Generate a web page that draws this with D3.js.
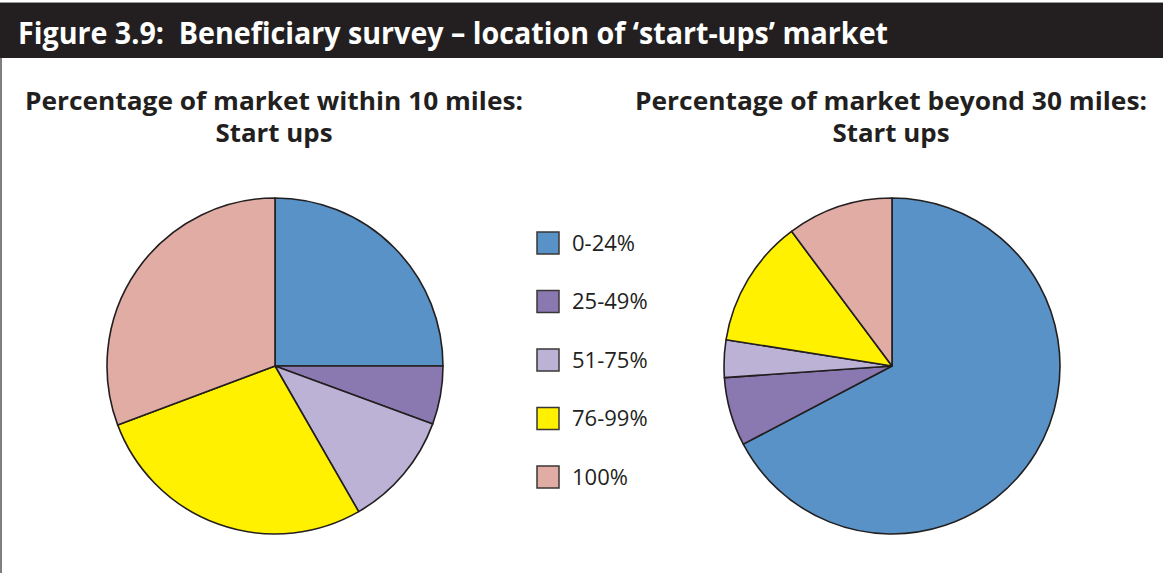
<!DOCTYPE html>
<html>
<head>
<meta charset="utf-8">
<script src="https://cdn.jsdelivr.net/npm/d3@7.9.0/dist/d3.min.js"></script>
<style>
  body { margin: 0; background: #fff; }
  svg { display: block; font-family: 'Open Sans', sans-serif; }
</style>
</head>
<body>
<svg id="chart" width="1163" height="573"></svg>
<script>
// data
const categories = ['0-24%', '25-49%', '51-75%', '76-99%', '100%'];
const within10 = [25, 5.6, 11.1, 27.6, 30.7];
const beyond30 = [67.3, 6.6, 3.6, 12.3, 10.2];
const pieTitles = [
  ['Percentage of market within 10 miles:', 'Start ups'],
  ['Percentage of market beyond 30 miles:', 'Start ups']
];
const figTitle = 'Figure 3.9:\u00a0 Beneficiary survey \u2013 location of \u2018start-ups\u2019 market';

const W = 1163, H = 573;
const ink = '#231f20';
const svg = d3.select('#chart');

let colors = d3.scaleOrdinal()
  .domain(categories)
  .range(['#5892c7', '#8a78b0', '#bbb2d6', '#fff100', '#e1aca3']);

// header bar
svg.append('rect').attr('x', 0).attr('y', 3).attr('width', W).attr('height', 55).attr('fill', ink);
svg.append('line').attr('x1', 0).attr('x2', W).attr('y1', 2.5).attr('y2', 2.5)
  .attr('stroke', '#9a9a9a').attr('stroke-width', 1);
svg.append('text')
  .attr('x', 18).attr('y', 44)
  .attr('fill', '#fff')
  .attr('font-size', 30).attr('font-weight', 700)
  .attr('textLength', 870).attr('lengthAdjust', 'spacingAndGlyphs')
  .text(figTitle);

// left frame line
svg.append('line').attr('x1', 1).attr('x2', 1).attr('y1', 58).attr('y2', H)
  .attr('stroke', '#555').attr('stroke-width', 1.5);

let arcGenerator = d3.arc().innerRadius(0).outerRadius(168);
let sliceGenerator = d3.pie().sort(null).value((d) => d);

const pies = [
  { values: within10, cx: 275, titleW: 498 },
  { values: beyond30, cx: 892, titleW: 512 }
];

pies.forEach((p, pi) => {
  let g = svg.append('g').attr('transform', `translate(${p.cx},366)`);
  g.selectAll('path')
    .data(sliceGenerator(p.values))
    .join('path')
    .attr('d', arcGenerator)
    .attr('fill', (d, i) => colors(categories[i]))
    .attr('stroke', ink)
    .attr('stroke-width', 1.6)
    .attr('stroke-linejoin', 'round');

  let t = svg.append('text')
    .attr('text-anchor', 'middle')
    .attr('fill', ink)
    .attr('font-size', 25).attr('font-weight', 700);
  t.append('tspan').attr('x', p.cx - 1).attr('y', 110)
    .attr('textLength', p.titleW).attr('lengthAdjust', 'spacingAndGlyphs')
    .text(pieTitles[pi][0]);
  t.append('tspan').attr('x', p.cx - 1).attr('y', 142)
    .attr('textLength', 117).attr('lengthAdjust', 'spacingAndGlyphs')
    .text(pieTitles[pi][1]);
});

// legend
let legendY = d3.scalePoint().domain(categories).range([243, 477]);
let legend = svg.append('g');
let rows = legend.selectAll('g')
  .data(categories)
  .join('g')
  .attr('transform', (d) => `translate(0,${legendY(d)})`);
rows.append('rect')
  .attr('x', 537).attr('y', -11).attr('width', 22).attr('height', 22)
  .attr('fill', (d) => colors(d))
  .attr('stroke', '#3a3636').attr('stroke-width', 1.5);
rows.append('text')
  .attr('x', 572).attr('y', 0)
  .attr('dy', '0.36em')
  .attr('fill', ink)
  .attr('font-size', 22)
  .text((d) => d);
</script>
</body>
</html>
